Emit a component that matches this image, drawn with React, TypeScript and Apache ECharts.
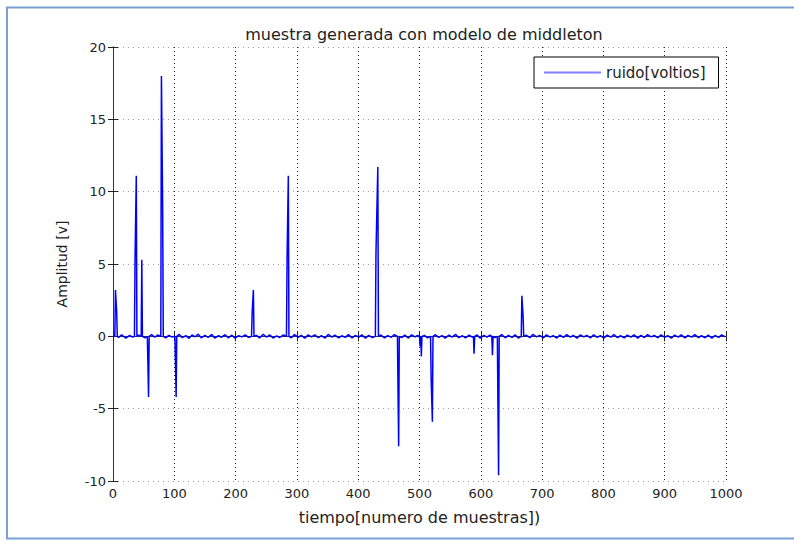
import React, { useEffect, useRef } from "react";
import * as echarts from "echarts";

const titleText = "muestra generada con modelo de middleton";
const xName = "tiempo[numero de muestras])";
const yName = "Amplitud [v]";
const seriesName = "ruido[voltios]";

const xTicks = { min: 0, max: 1000, interval: 100 };
const yTicks = { min: -10, max: 20, interval: 5 };

// impulsive spikes (sample index, amplitude)
const spikeX = [
  3, 4, 6, 7,
  35, 36, 38, 39,
  46, 47, 48,
  56, 57, 58, 59,
  78, 79, 81, 82,
  101, 102, 103, 104,
  226, 227, 229, 230,
  283, 284, 286, 287,
  428, 429, 432, 433,
  464, 465, 466, 467,
  500, 501, 502, 503, 504,
  518, 519, 521, 522,
  588, 589, 590,
  618, 619, 620,
  627, 628, 629, 630,
  666, 667, 669, 670,
];
const spikeY = [
  0, 3.2, 1.7, 0,
  0, 5.5, 11.1, 0,
  0, 5.3, 0,
  0, -2.0, -4.2, 0,
  0, 18.0, 8.9, 0,
  0, -2.0, -4.2, 0,
  0, 1.6, 3.2, 0,
  0, 5.5, 11.1, 0,
  0, 5.8, 11.7, 0,
  0, -3.9, -7.6, 0,
  0, -0.7, 0, -1.4, 0,
  0, -2.9, -5.9, 0,
  0, -1.2, 0,
  0, -1.3, 0,
  0, -4.9, -9.6, 0,
  0, 2.8, 1.4, 0,
];

// background noise (sample index, amplitude)
const noiseX = [
  0, 9, 14, 21, 27, 32, 42, 52, 63, 68, 73, 86, 91, 96, 108, 113, 119, 124, 129, 134,
  139, 144, 150, 155, 161, 166, 172, 177, 183, 188, 194, 199, 205, 210, 216, 221, 234, 239, 245, 250,
  256, 261, 267, 272, 278, 291, 296, 302, 307, 313, 318, 324, 329, 335, 340, 346, 351, 357, 362, 368,
  373, 379, 384, 390, 395, 401, 406, 412, 417, 423, 437, 443, 448, 454, 459, 471, 476, 482, 487, 493,
  497, 508, 513, 526, 531, 537, 542, 548, 553, 559, 564, 570, 575, 581, 586, 594, 599, 605, 610, 615,
  623, 634, 640, 645, 651, 656, 661, 674, 680, 685, 691, 696, 702, 707, 713, 718, 724, 729, 735, 740,
  746, 751, 757, 762, 768, 773, 779, 784, 790, 795, 801, 806, 812, 817, 823, 828, 834, 839, 845, 850,
  856, 861, 867, 872, 878, 883, 889, 894, 900, 905, 911, 916, 922, 927, 933, 938, 944, 949, 955, 960,
  966, 971, 977, 982, 988, 993, 999,
];
const noiseY = [
  0.05, -0.08, 0.1, -0.12, 0.06, -0.05, 0.08, -0.1, 0.12, -0.06, 0.09, -0.11, 0.07, -0.04, 0.13, -0.09, 0.05, -0.14, 0.1, -0.03,
  0.15, -0.1, 0.06, -0.07, 0.12, -0.12, 0.04, -0.06, 0.11, -0.1, 0.08, -0.13, 0.05, -0.04, 0.1, -0.08, 0.07, -0.11, 0.14, -0.05,
  0.09, -0.12, 0.03, -0.08, 0.1, -0.1, 0.12, -0.07, 0.06, -0.13, 0.09, -0.04, 0.11, -0.09, 0.05, -0.12, 0.13, -0.06, 0.08, -0.1,
  0.04, -0.07, 0.12, -0.11, 0.06, -0.05, 0.1, -0.13, 0.07, -0.08, 0.09, -0.1, 0.05, -0.06, 0.12, -0.09, 0.08, -0.12, 0.1, -0.04,
  0.07, 0.06, -0.1, 0.11, -0.07, 0.05, -0.12, 0.09, -0.05, 0.13, -0.09, 0.04, -0.11, 0.08, -0.06, 0.1, -0.13, 0.07, -0.05, 0.09,
  -0.08, 0.12, -0.1, 0.06, -0.07, 0.11, -0.12, 0.08, -0.09, 0.13, -0.04, 0.07, -0.11, 0.1, -0.06, 0.05, -0.12, 0.09, -0.08, 0.12,
  -0.05, 0.07, -0.13, 0.1, -0.04, 0.06, -0.1, 0.11, -0.07, 0.05, -0.12, 0.09, -0.06, 0.13, -0.09, 0.04, -0.11, 0.08, -0.05, 0.1,
  -0.12, 0.07, -0.08, 0.12, -0.04, 0.06, -0.1, 0.11, -0.07, 0.05, -0.13, 0.09, -0.06, 0.1, -0.11, 0.07, -0.05, 0.12, -0.09, 0.04,
  -0.1, 0.08, -0.12, 0.06, -0.07, 0.1, -0.04,
];

const FONT = "DejaVu Sans";

export default function App() {
  const ref = useRef<HTMLDivElement>(null);
  useEffect(() => {
    if (!ref.current) return;
    const chart = echarts.init(ref.current, undefined, { renderer: "svg" });
    const pts: [number, number][] = [];
    spikeX.forEach((x, i) => pts.push([x, spikeY[i]]));
    noiseX.forEach((x, i) => pts.push([x, noiseY[i]]));
    pts.sort((a, b) => a[0] - b[0]);

    const axisLine = { show: true, lineStyle: { color: "#333", width: 1 } };
    const tick = { show: true, inside: true, length: 5, lineStyle: { color: "#222" } };
    const label = {
      fontFamily: FONT,
      fontSize: 13,
      color: "#222",
      formatter: (v: number) => String(v),
    };

    chart.setOption({
      animation: false,
      backgroundColor: "#fff",
      title: {
        text: titleText,
        left: 419,
        top: 21,
        textAlign: "center",
        textStyle: { fontFamily: FONT, fontSize: 16, fontWeight: "normal", color: "#222" },
      },
      legend: {
        data: [{ name: seriesName, itemStyle: { color: "#8080ff" } }],
        left: 534,
        top: 57,
        icon: "rect",
        itemWidth: 57,
        itemHeight: 2,
        padding: [8, 13, 8, 10],
        borderColor: "#000",
        borderWidth: 1,
        backgroundColor: "#fff",
        textStyle: { fontFamily: FONT, fontSize: 15, color: "#222", lineHeight: 15 },
      },
      grid: { left: 113, right: 68, top: 47, bottom: 60, show: false },
      xAxis: [
        {
          type: "value",
          position: "bottom",
          min: xTicks.min,
          max: xTicks.max,
          interval: xTicks.interval,
          name: xName,
          nameLocation: "middle",
          nameGap: 28,
          nameTextStyle: { fontFamily: FONT, fontSize: 16, color: "#222" },
          axisLine,
          axisTick: tick,
          axisLabel: { ...label, margin: 6 },
          splitLine: { show: true, lineStyle: { color: "#222", type: [1, 3], width: 1 } },
        },
        {
          type: "value",
          position: "top",
          min: xTicks.min,
          max: xTicks.max,
          interval: xTicks.interval,
          axisLine,
          axisTick: tick,
          axisLabel: { show: false },
          splitLine: { show: false },
        },
      ],
      yAxis: [
        {
          type: "value",
          position: "left",
          min: yTicks.min,
          max: yTicks.max,
          interval: yTicks.interval,
          name: yName,
          nameLocation: "middle",
          nameGap: 44,
          nameTextStyle: { fontFamily: FONT, fontSize: 14, color: "#222" },
          axisLine: { show: true, lineStyle: { color: "#666", width: 1 } },
          axisTick: tick,
          axisLabel: { ...label, margin: 7 },
          splitLine: { show: true, lineStyle: { color: "#999", type: [1, 4], width: 1 } },
        },
        {
          type: "value",
          position: "right",
          min: yTicks.min,
          max: yTicks.max,
          interval: yTicks.interval,
          axisLine,
          axisTick: tick,
          axisLabel: { show: false },
          splitLine: { show: false },
        },
      ],
      series: [
        {
          name: seriesName,
          type: "line",
          data: pts,
          showSymbol: false,
          symbol: "none",
          lineStyle: { color: "#0000ff", width: 1.5 },
          itemStyle: { color: "#0000ff" },
          z: 3,
        },
      ],
      graphic: [
        {
          type: "rect",
          shape: { x: 7, y: 7.5, width: 800, height: 531 },
          style: { fill: "none", stroke: "#7aa0d6", lineWidth: 2 },
          silent: true,
          z: 100,
        },
      ],
    });
    return () => chart.dispose();
  }, []);
  return <div ref={ref} style={{ position: "fixed", left: 0, top: 0, width: 794, height: 541 }} />;
}
